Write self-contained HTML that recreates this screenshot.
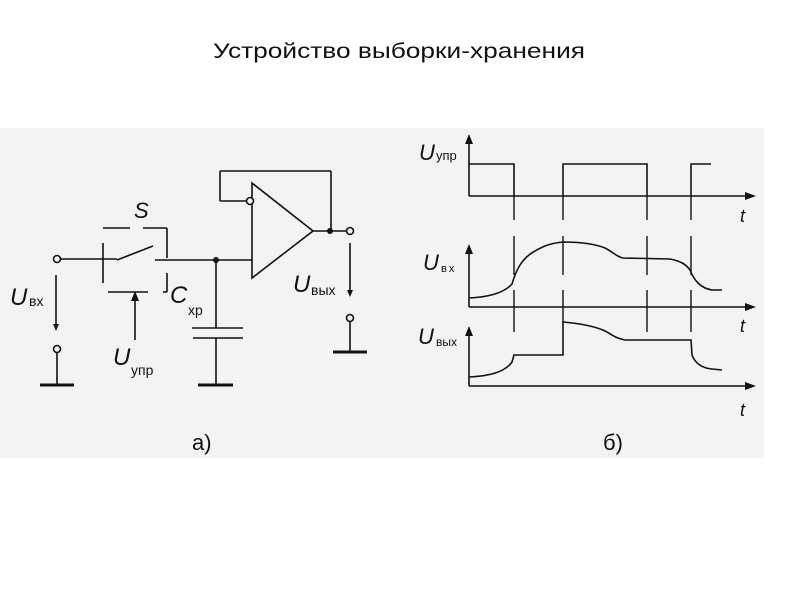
<!DOCTYPE html>
<html><head><meta charset="utf-8"><style>
html,body{margin:0;padding:0;background:#fff;}
svg{display:block;}
text{font-family:"Liberation Sans",sans-serif;fill:#111;}
</style></head><body>
<svg width="800" height="600" viewBox="0 0 800 600" xmlns="http://www.w3.org/2000/svg">
<rect x="0" y="0" width="800" height="600" fill="#fff"/>
<text x="399" y="58" font-size="21" text-anchor="middle" textLength="372" lengthAdjust="spacingAndGlyphs">Устройство выборки-хранения</text>
<rect x="0" y="128" width="764" height="330" fill="#f3f3f3"/>
<g stroke="#111" stroke-width="1.6" fill="none">
<!-- input -->
<circle cx="57" cy="259" r="3.5" fill="#f3f3f3"/>
<line x1="61" y1="259" x2="117" y2="259"/>
<line x1="103" y1="243" x2="103" y2="283"/>
<line x1="117" y1="260" x2="153" y2="246"/>
<line x1="103" y1="228" x2="130" y2="228"/>
<line x1="143" y1="228" x2="167" y2="228"/>
<line x1="167" y1="228" x2="167" y2="258"/>
<line x1="155" y1="260" x2="252" y2="260"/>
<line x1="167" y1="273" x2="167" y2="292"/>
<line x1="163" y1="292" x2="167" y2="292"/>
<line x1="108" y1="292" x2="148" y2="292"/>
<line x1="135" y1="340" x2="135" y2="300"/>
<!-- capacitor -->
<line x1="216" y1="260" x2="216" y2="328"/>
<line x1="192" y1="328" x2="243" y2="328"/>
<line x1="193" y1="338" x2="243" y2="338"/>
<line x1="216" y1="338" x2="216" y2="385"/>
<line x1="198" y1="385" x2="233" y2="385" stroke-width="3"/>
<!-- op amp -->
<polygon points="252,183 252,278 313,231"/>
<line x1="247" y1="201" x2="220" y2="201"/>
<line x1="220" y1="201" x2="220" y2="171"/>
<line x1="220" y1="171" x2="331" y2="171"/>
<line x1="331" y1="171" x2="331" y2="231"/>
<line x1="313" y1="231" x2="347" y2="231"/>
<circle cx="250" cy="201" r="3.5" fill="#f3f3f3"/>
<circle cx="350" cy="231" r="3.5" fill="#f3f3f3"/>
<!-- output arrow & ground -->
<line x1="350" y1="243" x2="350" y2="292"/>
<circle cx="350" cy="318" r="3.5" fill="#f3f3f3"/>
<line x1="350" y1="322" x2="350" y2="352"/>
<line x1="333" y1="352" x2="367" y2="352" stroke-width="3"/>
<!-- input arrow & ground -->
<line x1="56" y1="275" x2="56" y2="326"/>
<circle cx="57" cy="349" r="3.5" fill="#f3f3f3"/>
<line x1="57" y1="353" x2="57" y2="385"/>
<line x1="40" y1="385" x2="74" y2="385" stroke-width="3"/>
</g>
<g fill="#111">
<circle cx="216" cy="260" r="3"/>
<circle cx="330" cy="231" r="3"/>
<polygon points="135,291 131,301 139,301"/>
<polygon points="350,297 347,290 353,290"/>
<polygon points="56,331 53,324 59,324"/>
</g>
<text x="134" y="218" font-size="22" font-style="italic">S</text>
<text x="10" y="305" font-size="24" font-style="italic">U</text>
<text x="29" y="306" font-size="14">вх</text>
<text x="113" y="365" font-size="24" font-style="italic">U</text>
<text x="131" y="375" font-size="14">упр</text>
<text x="170" y="303" font-size="24" font-style="italic">C</text>
<text x="188" y="315" font-size="14">хр</text>
<text x="293" y="292" font-size="24" font-style="italic">U</text>
<text x="311" y="295" font-size="14">вых</text>
<text x="192" y="450" font-size="22">а)</text>

<!-- timing diagrams -->
<g stroke="#111" stroke-width="1.6" fill="none">
<line x1="469" y1="140" x2="469" y2="196"/>
<line x1="469" y1="196" x2="748" y2="196"/>
<line x1="469" y1="250" x2="469" y2="307"/>
<line x1="469" y1="307" x2="748" y2="307"/>
<line x1="469" y1="332" x2="469" y2="386"/>
<line x1="469" y1="386" x2="748" y2="386"/>
<polyline points="469,164 514,164 514,196"/>
<polyline points="563,196 563,164 647,164 647,196"/>
<polyline points="691,196 691,164 711,164"/>
<g stroke-width="1.4">
<line x1="514" y1="196" x2="514" y2="220"/><line x1="514" y1="236" x2="514" y2="275"/><line x1="514" y1="290" x2="514" y2="332"/>
<line x1="563" y1="196" x2="563" y2="220"/><line x1="563" y1="236" x2="563" y2="275"/><line x1="563" y1="290" x2="563" y2="322"/>
<line x1="647" y1="196" x2="647" y2="220"/><line x1="647" y1="236" x2="647" y2="275"/><line x1="647" y1="290" x2="647" y2="332"/>
<line x1="691" y1="196" x2="691" y2="220"/><line x1="691" y1="236" x2="691" y2="275"/><line x1="691" y1="290" x2="691" y2="332"/>
</g>
<path d="M469,298 C490,297 505,292 512,284 C516,270 522,258 535,251 C545,245 553,243 563,242 C580,242 595,244 605,248 C613,252 617,257 623,258 L670,259 C680,261 686,264 690,270 C694,280 700,288 712,290 L722,290"/>
<path d="M469,377 C490,376 505,372 512,362 L514,355 L563,355 L563,322 C575,323 590,325 603,330 C610,333 614,338 625,340 L638,340 L691,340 L692,355 C695,363 702,368 712,369 L722,370"/>
</g>
<g fill="#111">
<polygon points="469,134 465,144 473,144"/>
<polygon points="469,244 465,254 473,254"/>
<polygon points="469,326 465,336 473,336"/>
<polygon points="756,196 745,192 745,200"/>
<polygon points="756,307 745,303 745,311"/>
<polygon points="756,386 745,382 745,390"/>
</g>
<text x="740" y="222" font-size="18" font-style="italic">t</text>
<text x="740" y="332" font-size="18" font-style="italic">t</text>
<text x="740" y="416" font-size="18" font-style="italic">t</text>
<text x="419" y="160" font-size="22" font-style="italic">U</text>
<text x="436" y="160" font-size="13">упр</text>
<text x="423" y="270" font-size="22" font-style="italic">U</text>
<text x="441" y="272" font-size="11" letter-spacing="2">вх</text>
<text x="418" y="344" font-size="22" font-style="italic">U</text>
<text x="436" y="346" font-size="12">вых</text>
<text x="603" y="450" font-size="22">б)</text>
</svg>
</body></html>
